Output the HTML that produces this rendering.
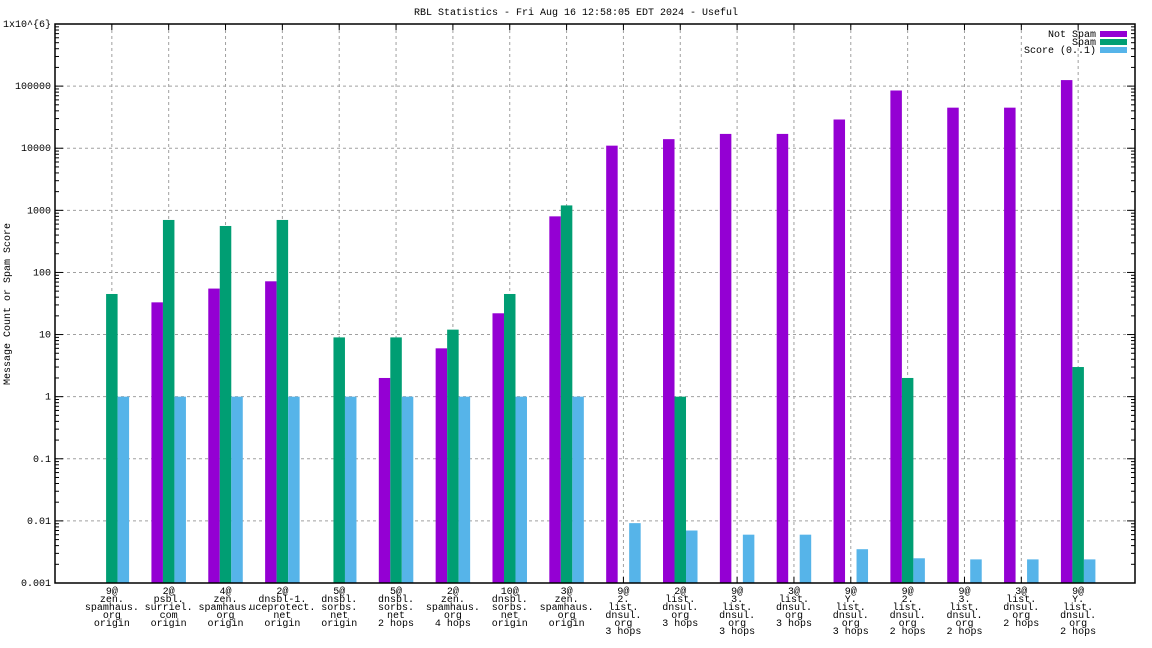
<!DOCTYPE html>
<html><head><meta charset="utf-8"><style>
html,body{margin:0;padding:0;background:#fff;width:1152px;height:648px;overflow:hidden}
svg{display:block}
text{font-family:"Liberation Mono","DejaVu Sans Mono",monospace;font-size:10px;fill:#000}
</style></head><body>
<svg id="chart" width="1152" height="648"></svg>
<script>
const categories=[
["9@","zen.","spamhaus.","org","origin"],
["2@","psbl.","surriel.","com","origin"],
["4@","zen.","spamhaus.","org","origin"],
["2@","dnsbl-1.","uceprotect.","net","origin"],
["5@","dnsbl.","sorbs.","net","origin"],
["5@","dnsbl.","sorbs.","net","2 hops"],
["2@","zen.","spamhaus.","org","4 hops"],
["10@","dnsbl.","sorbs.","net","origin"],
["3@","zen.","spamhaus.","org","origin"],
["9@","2.","list.","dnsul.","org","3 hops"],
["2@","list.","dnsul.","org","3 hops"],
["9@","3.","list.","dnsul.","org","3 hops"],
["3@","list.","dnsul.","org","3 hops"],
["9@","Y.","list.","dnsul.","org","3 hops"],
["9@","2.","list.","dnsul.","org","2 hops"],
["9@","3.","list.","dnsul.","org","2 hops"],
["3@","list.","dnsul.","org","2 hops"],
["9@","Y.","list.","dnsul.","org","2 hops"]];
const notSpam=[null,33,55,72,null,2,6,22,800,11000,14000,17000,17000,29000,85000,45000,45000,125000];
const spam=[45,700,560,700,9,9,12,45,1200,null,1,null,null,null,2,null,null,3];
const score=[1,1,1,1,1,1,1,1,1,0.0092,0.007,0.006,0.006,0.0035,0.0025,0.0024,0.0024,0.0024];
const yTickLabels=["0.001","0.01","0.1","1","10","100","1000","10000","100000","1x10^{6}"];

const NS="http://www.w3.org/2000/svg";
const svg=document.getElementById('chart');
const L=55,R=1135,T=24,B=583;
const x=i=>L+(R-L)*(i+1)/(categories.length+1);
const y=v=>B-(Math.log10(v)+3)/9*(B-T);
function el(tag,attrs,parent){const e=document.createElementNS(NS,tag);for(const k in attrs)e.setAttribute(k,attrs[k]);(parent||svg).appendChild(e);return e;}

const title=el('text',{x:576,y:15,'text-anchor':'middle'});title.textContent="RBL Statistics - Fri Aug 16 12:58:05 EDT 2024 - Useful";


const yt=el('text',{x:10,y:304,'text-anchor':'middle',transform:'rotate(-90 10 304)'});yt.textContent="Message Count or Spam Score";



for(let d=0;d<=9;d++){const yy=B-d*(B-T)/9;
 if(d>0&&d<9){const g=el('line',{x1:L,x2:R,y1:yy,y2:yy,stroke:'#a0a0a0','stroke-dasharray':'3,3'});
 
 }
 const t=el('text',{x:L-4,y:yy+3,'text-anchor':'end'});t.textContent=yTickLabels[d];
 
 
 el('line',{x1:L,x2:L+8,y1:yy,y2:yy,stroke:'#000'});el('line',{x1:R,x2:R-8,y1:yy,y2:yy,stroke:'#000'});
 if(d<9)for(let m=2;m<=9;m++){const ym=yy-Math.log10(m)*(B-T)/9;el('line',{x1:L,x2:L+4,y1:ym,y2:ym,stroke:'#000'});el('line',{x1:R,x2:R-4,y1:ym,y2:ym,stroke:'#000'});}
}
categories.forEach((c,i)=>{const xx=x(i);
 const g=el('line',{x1:xx,x2:xx,y1:T,y2:B,stroke:'#a0a0a0','stroke-dasharray':'3,3'});
 
 
 el('line',{x1:xx,x2:xx,y1:B,y2:B-6,stroke:'#000'});el('line',{x1:xx,x2:xx,y1:T,y2:T+6,stroke:'#000'});
 c.forEach((s,j)=>{const t=el('text',{x:xx,y:594+j*8,'text-anchor':'middle'});t.textContent=s;
 
 });
});
const bw=11.5;
const series=[[notSpam,'#9400d3','bar-not-spam',-1.5],[spam,'#009e73','bar-spam',-0.5],[score,'#56b4e9','bar-score',0.5]];
series.forEach(([arr,col,name,off])=>{arr.forEach((v,i)=>{if(v==null)return;const top=y(v);
 const r=el('rect',{x:x(i)+off*bw,y:top,width:bw,height:B-top,fill:col});
 
 });});
el('rect',{x:L,y:T,width:R-L,height:B-T,fill:'none',stroke:'#000','stroke-width':1.5});
const leg=[["Not Spam",'#9400d3'],["Spam",'#009e73'],["Score (0..1)",'#56b4e9']];
leg.forEach(([s,col],k)=>{const yy=34+k*8;
 const t=el('text',{x:1096,y:yy+3,'text-anchor':'end'});t.textContent=s;
 
 
 el('rect',{x:1100,y:yy-3,width:27,height:6,fill:col});});
</script>
</body></html>
